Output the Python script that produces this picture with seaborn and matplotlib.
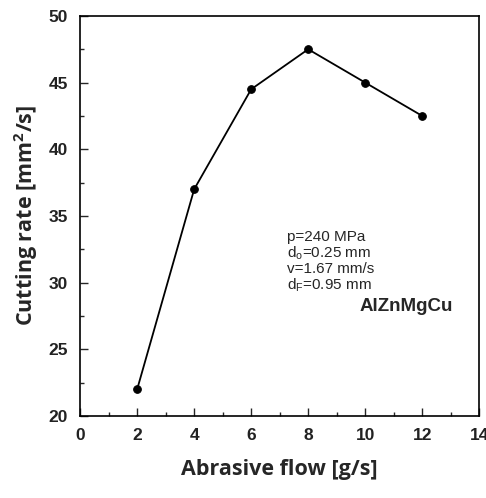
import matplotlib
matplotlib.use("Agg")
import matplotlib.pyplot as plt
import seaborn as sns
import pandas as pd
from matplotlib.ticker import MultipleLocator

flow = [2, 4, 6, 8, 10, 12]
rate = [22.0, 37.0, 44.5, 47.5, 45.0, 42.5]
x_ticks = [0, 2, 4, 6, 8, 10, 12, 14]
y_ticks = [20, 25, 30, 35, 40, 45, 50]

df = pd.DataFrame({"flow": flow, "rate": rate})

sns.set_theme(style="ticks")
plt.rcParams['font.family'] = ['Liberation Sans', 'DejaVu Sans']

fig = plt.figure(figsize=(4.86, 4.98), dpi=100)
ax = fig.add_axes([0.165, 0.165, 0.821, 0.803])
sns.lineplot(data=df, x="flow", y="rate", ax=ax, color="black", lw=1.3,
             marker="o", markersize=5.5, markeredgecolor="black")

ax.set_xlim(0, 14)
ax.set_ylim(20, 50)
ax.set_xticks(x_ticks)
ax.set_yticks(y_ticks)
ax.xaxis.set_minor_locator(MultipleLocator(1))
ax.yaxis.set_minor_locator(MultipleLocator(2.5))
ax.tick_params(which="major", direction="in", length=6, width=1, labelsize=12.5, pad=9)
ax.tick_params(which="minor", direction="in", length=3, width=1)
for lab in ax.get_xticklabels() + ax.get_yticklabels():
    lab.set_fontweight("bold")
    lab.set_color("#222222")
for sp in ax.spines.values():
    sp.set_linewidth(1.2)
    sp.set_color("black")

ax.set_xlabel("Abrasive flow [g/s]", fontsize=15.5, fontweight="bold",
              family=["Open Sans", "DejaVu Sans"], labelpad=11)
ax.set_ylabel("Cutting rate [mm$^\\mathregular{2}$/s]", fontsize=15.5, fontweight="bold",
              family=["Open Sans", "DejaVu Sans"], labelpad=6)

lines = ["p=240 MPa", "d$_\\mathregular{o}$=0.25 mm", "v=1.67 mm/s", "d$_\\mathregular{F}$=0.95 mm"]
ys = [33.4, 32.2, 31.0, 29.8]
for t, y in zip(lines, ys):
    ax.text(7.25, y, t, fontsize=11, va="center", ha="left")
ax.text(11.45, 28.2, "AlZnMgCu", fontsize=13.5, fontweight="bold", ha="center", va="center")

fig.savefig("out.png", dpi=100)
